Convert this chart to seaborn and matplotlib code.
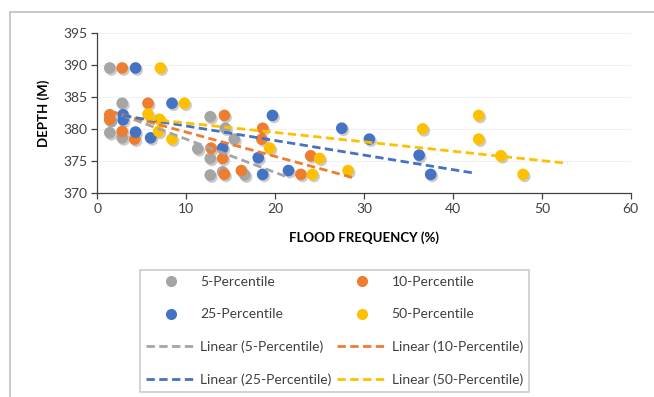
import numpy as np
import pandas as pd
import matplotlib
matplotlib.use("Agg")
import matplotlib.pyplot as plt
import matplotlib.patheffects as pe
from matplotlib.lines import Line2D
import seaborn as sns

# Values
x_p5 = [1.4, 2.8, 1.4, 1.4, 2.8, 12.7, 14.4, 15.4, 11.3, 12.7, 12.7, 14.1, 16.6]
y_p5 = [389.5, 384.0, 381.4, 379.4, 378.6, 381.9, 380.1, 378.4, 376.9, 375.4, 372.8, 373.3, 372.8]

x_p10 = [2.8, 5.7, 1.4, 1.4, 2.8, 4.2, 14.3, 18.6, 18.5, 12.8, 14.1, 14.3, 16.2, 24.0, 22.9]
y_p10 = [389.5, 384.0, 382.2, 381.5, 379.6, 378.4, 382.1, 380.1, 378.4, 377.0, 375.4, 372.9, 373.5, 375.8, 372.9]

x_p25 = [4.3, 8.4, 2.9, 2.9, 4.3, 6.0, 19.7, 14.1, 18.1, 18.6, 21.5, 27.5, 30.6, 36.2, 37.5]
y_p25 = [389.5, 384.0, 382.2, 381.4, 379.5, 378.6, 382.1, 377.0, 375.5, 372.9, 373.5, 380.1, 378.4, 375.9, 372.9]

x_p50 = [7.1, 9.8, 5.7, 7.0, 6.9, 8.4, 19.4, 25.0, 24.2, 28.2, 36.6, 42.9, 42.9, 45.4, 47.9]
y_p50 = [389.5, 384.0, 382.3, 381.5, 379.6, 378.4, 377.0, 375.4, 372.9, 373.5, 380.0, 382.1, 378.4, 375.8, 372.9]

series_names = ["5-Percentile", "10-Percentile", "25-Percentile", "50-Percentile"]
colors = ["#A5A5A5", "#ED7D31", "#4472C4", "#FFC000"]
forecast_forward = 5  # Excel trendline forward forecast

xs = [x_p5, x_p10, x_p25, x_p50]
ys = [y_p5, y_p10, y_p25, y_p50]

df = pd.concat(
    [pd.DataFrame({"freq": x, "depth": y, "series": n}) for x, y, n in zip(xs, ys, series_names)],
    ignore_index=True,
)

sns.set_style("white")
plt.rcParams["font.family"] = ["Lato", "DejaVu Sans"]

fig = plt.figure(figsize=(6.54, 3.97), dpi=100)
ax = fig.add_axes([0.1488, 0.5139, 0.8156, 0.4037])

# chart area border
fig.patches.append(plt.Rectangle((0.0155, -0.01), 1.0, 0.98, transform=fig.transFigure,
                                 fill=False, edgecolor="#BFBFBF", linewidth=1.2))

palette = dict(zip(series_names, colors))
sns.scatterplot(data=df, x="freq", y="depth", hue="series", palette=palette,
                s=70, linewidth=0, ax=ax, legend=False, zorder=3)
for coll in ax.collections:
    coll.set_path_effects([pe.SimplePatchShadow(offset=(1.2, -1.5), shadow_rgbFace="#555555", alpha=0.3),
                           pe.Normal()])

# linear trendlines
for x, y, n, c in zip(xs, ys, series_names, colors):
    k, b = np.polyfit(x, y, 1)
    tx = np.array([min(x), max(x) + forecast_forward])
    sns.lineplot(x=tx, y=k * tx + b, ax=ax, color=c, linewidth=2.0, zorder=4)
    ax.lines[-1].set_dashes((3, 1.6))

ax.set_xlim(0, 60)
ax.set_ylim(370, 395)
ax.set_xticks(range(0, 61, 10))
ax.set_yticks(range(370, 396, 5))
ax.yaxis.grid(True, color="#F2F2F2", linewidth=0.8)
ax.set_axisbelow(True)
for side in ["top", "right"]:
    ax.spines[side].set_visible(False)
for side in ["left", "bottom"]:
    ax.spines[side].set_color("#404040")
    ax.spines[side].set_linewidth(0.9)
ax.tick_params(axis="both", which="major", direction="out", length=4, width=0.9,
               color="#404040", labelsize=10, labelcolor="#404040", left=True, bottom=True, pad=3)

ax.set_xlabel("FLOOD FREQUENCY (%)", fontsize=9.5, fontweight="bold", color="#000000", labelpad=12)
ax.set_ylabel("DEPTH (M)", fontsize=9.5, fontweight="bold", color="#000000", labelpad=10)

# legend in Excel's row order
def dot(c):
    return Line2D([], [], marker="o", linestyle="none", markersize=8, markerfacecolor=c,
                  markeredgewidth=0)

def dash(c):
    return Line2D([], [], color=c, linewidth=2.0, linestyle=(0, (3, 1.6)))

col1 = [dot(colors[0]), dot(colors[2]), dash(colors[0]), dash(colors[2])]
col2 = [dot(colors[1]), dot(colors[3]), dash(colors[1]), dash(colors[3])]
lab1 = ["5-Percentile", "25-Percentile", "Linear (5-Percentile)", "Linear (25-Percentile)"]
lab2 = ["10-Percentile", "50-Percentile", "Linear (10-Percentile)", "Linear (50-Percentile)"]

leg = fig.legend(col1 + col2, lab1 + lab2, ncol=2, loc="center",
                 bbox_to_anchor=(0.5115, 0.166), frameon=True, fancybox=False,
                 edgecolor="#BFBFBF", fontsize=10, handlelength=3.6, handletextpad=0.3,
                 columnspacing=0.4, labelspacing=1.45, borderpad=0.45, labelcolor="#404040")
leg.get_frame().set_linewidth(1.2)

fig.savefig("out.png", dpi=100)
